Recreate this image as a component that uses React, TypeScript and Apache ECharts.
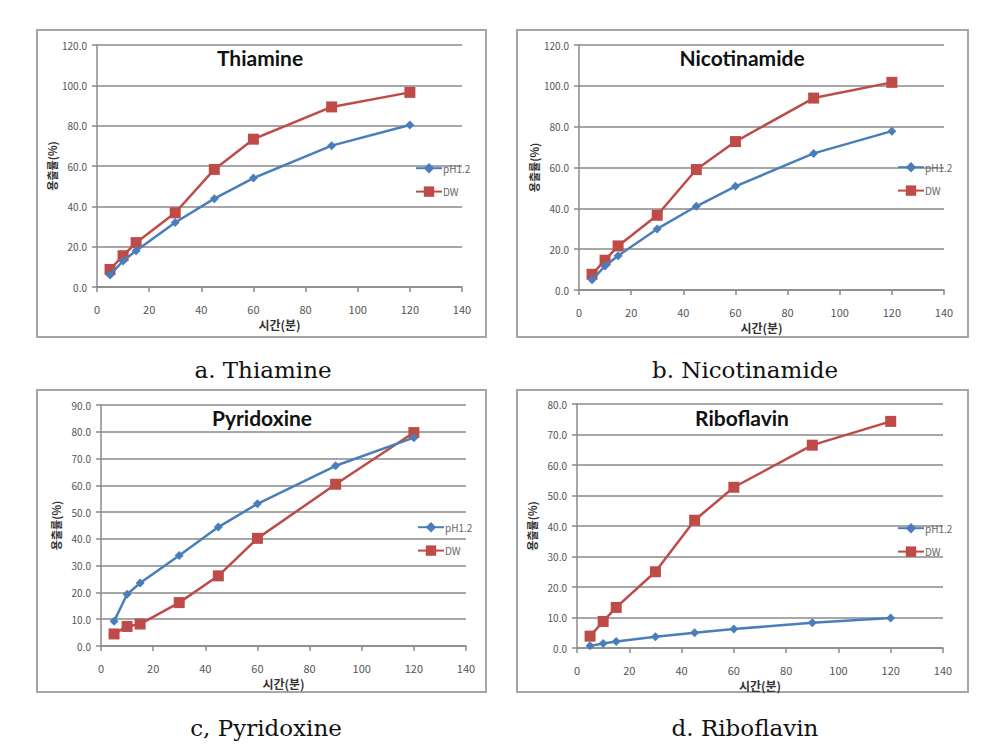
import React, { useEffect, useRef } from 'react';
import * as echarts from 'echarts';

const times = [5, 10, 15, 30, 45, 60, 90, 120];
const seriesNames = ['pH1.2', 'DW'];
const panelTitles = ['Thiamine', 'Nicotinamide', 'Pyridoxine', 'Riboflavin'];
const panelCaptions = ['a. Thiamine', 'b. Nicotinamide', 'c, Pyridoxine', 'd. Riboflavin'];
const thiaminePH = [6.0, 12.9, 18.0, 32.0, 43.8, 54.0, 70.1, 80.3];
const thiamineDW = [8.7, 15.5, 22.0, 36.8, 58.3, 73.3, 89.3, 96.5];
const nicotinamidePH = [5.0, 11.8, 16.8, 29.9, 41.0, 50.8, 66.9, 77.8];
const nicotinamideDW = [7.7, 14.6, 21.6, 36.6, 59.0, 72.7, 94.0, 101.7];
const pyridoxinePH = [9.2, 19.3, 23.5, 33.8, 44.4, 53.1, 67.3, 77.8];
const pyridoxineDW = [4.5, 7.3, 8.2, 16.2, 26.2, 40.2, 60.4, 79.7];
const riboflavinPH = [0.7, 1.5, 2.1, 3.7, 5.0, 6.2, 8.3, 9.8];
const riboflavinDW = [3.9, 8.7, 13.3, 25.0, 41.9, 52.7, 66.5, 74.3];
const yMaxes = [120, 120, 90, 80];
const yIntervals = [20, 20, 10, 10];
const xMax = 140;
const xInterval = 20;
const xAxisName = '시간(분)';
const yAxisName = '용출률(%)';

const phData = [thiaminePH, nicotinamidePH, pyridoxinePH, riboflavinPH];
const dwData = [thiamineDW, nicotinamideDW, pyridoxineDW, riboflavinDW];

// layout (pixels)
const grids = [
  { left: 97, top: 45, width: 365, height: 242 },
  { left: 579, top: 45, width: 365, height: 245 },
  { left: 101, top: 405, width: 365, height: 241 },
  { left: 577, top: 404, width: 366, height: 244 },
];
const boxes = [
  { x: 37, y: 30, w: 449, h: 307 },
  { x: 517, y: 30, w: 451, h: 307 },
  { x: 37, y: 390, w: 449, h: 302 },
  { x: 517, y: 390, w: 451, h: 302 },
];
const legendPos = [
  { left: 415, top: 163 },
  { left: 897, top: 162 },
  { left: 417, top: 522 },
  { left: 897, top: 523 },
];
const titlePos = [
  { x: 260, y: 57 },
  { x: 742, y: 57 },
  { x: 262, y: 417 },
  { x: 742, y: 417 },
];
const captionPos = [
  { x: 263, y: 370 },
  { x: 745, y: 370 },
  { x: 266, y: 728 },
  { x: 745, y: 728 },
];

const BLUE = '#4a7ebb';
const RED = '#be4b48';
const GRID_COLOR = '#8a8a8a';
const LABEL_COLOR = '#555555';
const KFONT = '"Noto Sans CJK KR", "Noto Sans", sans-serif';

export default function App() {
  const ref = useRef<HTMLDivElement>(null);
  useEffect(() => {
    if (!ref.current) return;
    const chart = echarts.init(ref.current, undefined, { renderer: 'svg' });

    const xAxis = grids.map((_, i) => ({
      type: 'value',
      gridIndex: i,
      min: 0,
      max: xMax,
      interval: xInterval,
      name: xAxisName,
      nameLocation: 'middle',
      nameGap: 31,
      nameTextStyle: { fontFamily: KFONT, fontSize: 12, color: '#333', fontWeight: 'bold' },
      axisLine: { show: true, lineStyle: { color: GRID_COLOR, width: 1.5 } },
      axisTick: { show: true, length: 5, lineStyle: { color: GRID_COLOR, width: 1.5 } },
      axisLabel: { fontFamily: KFONT, fontSize: 11, color: LABEL_COLOR, margin: 16 },
      splitLine: { show: false },
    }));

    const yAxis = grids.map((_, i) => ({
      type: 'value',
      gridIndex: i,
      min: 0,
      max: yMaxes[i],
      interval: yIntervals[i],
      name: yAxisName,
      nameLocation: 'middle',
      nameRotate: 90,
      nameGap: 40,
      nameTextStyle: { fontFamily: KFONT, fontSize: 11, color: '#333', fontWeight: 'bold' },
      axisLine: { show: true, lineStyle: { color: GRID_COLOR, width: 1.5 } },
      axisTick: { show: true, length: 5, lineStyle: { color: GRID_COLOR, width: 1.5 } },
      axisLabel: {
        fontFamily: KFONT,
        fontSize: 10,
        color: LABEL_COLOR,
        margin: 10,
        formatter: (v: number) => v.toFixed(1),
      },
      splitLine: { show: true, lineStyle: { color: GRID_COLOR, width: 1.5 } },
    }));

    const series: any[] = [];
    grids.forEach((_, i) => {
      series.push({
        type: 'line',
        name: seriesNames[0],
        xAxisIndex: i,
        yAxisIndex: i,
        data: times.map((t, k) => [t, phData[i][k]]),
        symbol: 'diamond',
        symbolSize: 9,
        lineStyle: { color: BLUE, width: 2.5 },
        itemStyle: { color: BLUE },
        z: 3,
      });
      series.push({
        type: 'line',
        name: seriesNames[1],
        xAxisIndex: i,
        yAxisIndex: i,
        data: times.map((t, k) => [t, dwData[i][k]]),
        symbol: 'rect',
        symbolSize: 11,
        lineStyle: { color: RED, width: 2.5 },
        itemStyle: { color: RED },
        z: 2,
      });
    });

    const legend = legendPos.map((p) => ({
      orient: 'vertical',
      left: p.left,
      top: p.top,
      padding: 0,
      itemWidth: 26,
      itemHeight: 13,
      itemGap: 13,
      data: seriesNames,
      selectedMode: false,
      textStyle: { fontFamily: KFONT, fontSize: 10, color: '#666', padding: [0, 0, 0, -4] },
    }));

    const graphic: any[] = [];
    boxes.forEach((b) => {
      graphic.push({
        type: 'rect',
        shape: { x: b.x, y: b.y, width: b.w, height: b.h },
        style: { fill: 'none', stroke: '#a6a6a6', lineWidth: 2 },
        silent: true,
      });
    });
    titlePos.forEach((p, i) => {
      graphic.push({
        type: 'text',
        x: p.x,
        y: p.y,
        style: {
          text: panelTitles[i],
          fill: '#111',
          font: 'bold 21px Lato, "Open Sans", sans-serif',
          textAlign: 'center',
          textVerticalAlign: 'middle',
        },
        z: 10,
      });
    });
    captionPos.forEach((p, i) => {
      graphic.push({
        type: 'text',
        x: p.x,
        y: p.y,
        style: {
          text: panelCaptions[i],
          fill: '#111',
          font: '23px "DejaVu Serif", "Liberation Serif", serif',
          textAlign: 'center',
          textVerticalAlign: 'middle',
        },
      });
    });

    chart.setOption({
      animation: false,
      backgroundColor: '#ffffff',
      grid: grids.map((g) => ({ ...g, containLabel: false })),
      xAxis,
      yAxis,
      series,
      legend,
      graphic,
    });
    return () => chart.dispose();
  }, []);

  return (
    <div
      ref={ref}
      style={{ position: 'fixed', left: 0, top: 0, width: 997, height: 750, background: '#fff' }}
    />
  );
}
